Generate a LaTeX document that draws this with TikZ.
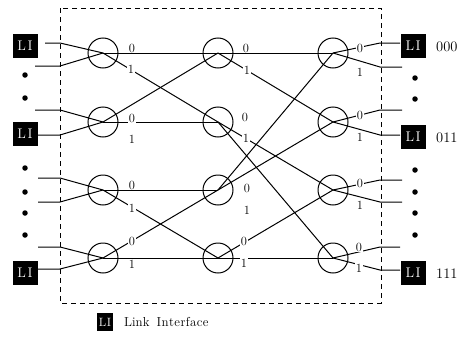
\documentclass[tikz,border=0pt]{standalone}
\usetikzlibrary{calc}
\begin{document}
\begin{tikzpicture}[x=1pt,y=-1pt,
  wire/.style={line width=1pt},
  sw/.style={circle,draw,line width=1pt,minimum size=30pt,inner sep=0pt},
  lbl/.style={font=\fontsize{12.5}{13}\selectfont,inner sep=0.6pt,fill=white},
  libox/.style={fill=black,text=white,minimum width=25pt,minimum height=24pt,inner sep=0pt,font=\fontsize{14}{15}\selectfont},
  addr/.style={font=\fontsize{14.5}{15}\selectfont,anchor=west,inner sep=0pt},
  dotm/.style={circle,fill=black,minimum size=5.5pt,inner sep=0pt}]
\useasboundingbox (0,0) rectangle (468,340);

% enclosure of the switching network
\draw[line width=0.8pt,dash pattern=on 5pt off 4pt] (60,8) rectangle (381,303);

% switching elements, three stages of four
\foreach \c/\x in {1/103,2/218,3/333}{
  \foreach \r/\y in {1/53,2/122,3/190,4/258}{
    \node[sw] (s\c\r) at (\x,\y) {};
  }
}

% stage 1 -> stage 2
\foreach \a/\b in {11/21,11/22,12/21,12/22,13/23,13/24,14/23,14/24}{
  \draw[wire] (s\a.center) -- (s\b.center);
}
% stage 2 -> stage 3
\foreach \a/\b in {21/31,21/32,22/33,22/34,23/31,23/32,24/33,24/34}{
  \draw[wire] (s\a.center) -- (s\b.center);
}

% input side: link interfaces and dots
\node[libox] (lin1) at (25,46) {L\kern1.5pt I};
\node[libox] (lin2) at (25,134) {L\kern1.5pt I};
\node[libox] (lin3) at (25,273) {L\kern1.5pt I};
\foreach \y [count=\i] in {75,98,168,192,213,235}{
  \node[dotm] (ldot\i) at (25,\y) {};
}

% input wires (free ends and bends as coordinates)
\foreach \n/\ys/\xs/\yb in {11/43/45/43, 11/66/35/66, 12/110/35/110, 12/135/37/135,
                            13/178/38/178, 13/202/38/202, 14/247/38/247, 14/269/37/269}{
  \coordinate (ia) at (\xs,\ys);
  \coordinate (ib) at (60,\yb);
  \draw[wire] (ia) -- (ib) -- (s\n.center);
}

% output side: link interfaces, addresses and dots
\node[libox] (lout1) at (413,46) {L\kern1.5pt I};
\node[libox] (lout2) at (413,137) {L\kern1.5pt I};
\node[libox] (lout3) at (413,273) {L\kern1.5pt I};
\node[addr] at (436,47) {000};
\node[addr] at (436,138) {011};
\node[addr] at (436,274) {111};
\foreach \y [count=\i] in {78,99,170,192,213,235}{
  \node[dotm] (rdot\i) at (415,\y) {};
}

% output wires
\foreach \n/\yb/\xe in {31/43/400, 31/67/402, 32/110/402, 32/135/400,
                        33/180/402, 33/202/402, 34/247/400, 34/270/400}{
  \coordinate (oa) at (380,\yb);
  \coordinate (ob) at (\xe,\yb);
  \draw[wire] (s\n.center) -- (oa) -- (ob);
}

% port labels
\foreach \x/\y/\t in {
  132/48/0, 131/69/1, 132/118/0, 132/139/1, 132/185/0, 132/208/1, 132/241/0, 132/264/1,
  246/48/0, 247/70/1, 245/117/0, 246/138/1, 247/188/0, 247/210/1, 244/241/0, 244/263/1,
  360/48/0, 360/72/1, 360/115/0, 360/137/1, 360/183/0, 360/205/1, 359/247/0, 359/268/1}{
  \node[lbl] at (\x,\y) {\t};
}

% legend
\node[libox,minimum width=16pt,minimum height=18pt,font=\fontsize{12}{13}\selectfont] (leg) at (105,322) {L\kern0.5pt I};
\node[anchor=west,inner sep=0pt,font=\fontsize{13}{15}\selectfont] (legtxt) at (124,322) {Link\hspace{0.55em}I\kern0.4pt n\kern0.4pt t\kern0.4pt e\kern0.4pt r\kern0.4pt f\kern0.4pt a\kern0.4pt c\kern0.4pt e};
\end{tikzpicture}
\end{document}
